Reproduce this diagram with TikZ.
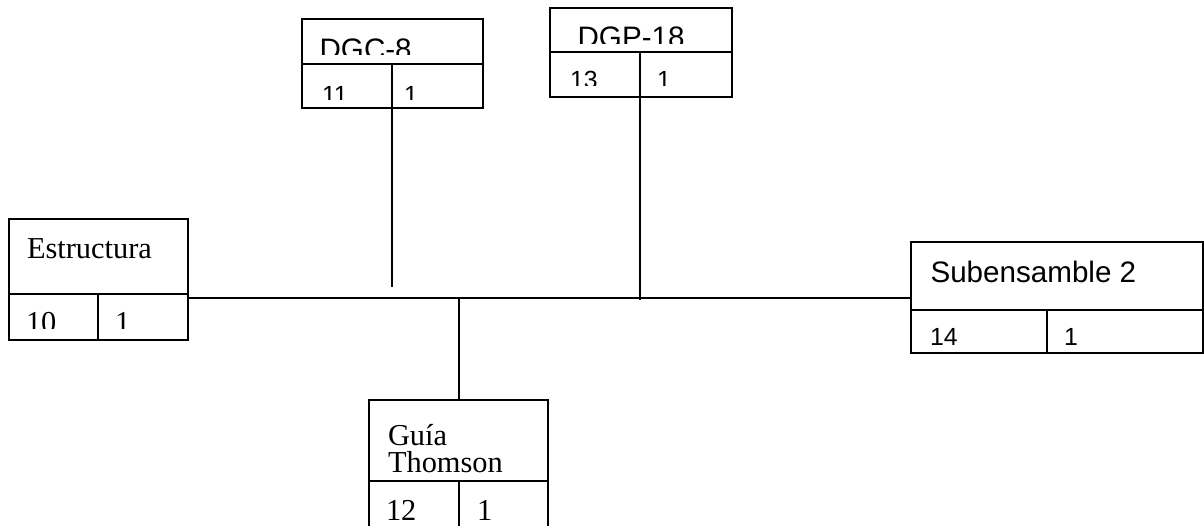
\documentclass[tikz,border=0pt]{standalone}
\usepackage{fontspec}
\setmainfont{Liberation Serif}
\setsansfont{Liberation Sans}
\usetikzlibrary{calc}
\newcommand{\serifsize}{\fontsize{15.2}{13.5}\selectfont}
\newcommand{\namesize}{\sffamily\fontsize{14.8}{16}\selectfont}
\newcommand{\numsize}{\sffamily\fontsize{12.4}{14}\selectfont}

\begin{document}
\begin{tikzpicture}[x=0.5pt, y=-0.5pt]

  \tikzset{
    tx/.initial=8.5pt, ty/.initial=19.5pt, cut/.initial=0pt, tf/.initial=\serifsize,
    cell/.style = {
      rectangle, draw, line width=1pt, inner sep=0pt, outer sep=0pt,
      anchor=north west
    },
    txt/.style = {
      path picture={
        \clip ([yshift=\pgfkeysvalueof{/tikz/cut}]path picture bounding box.south west)
          rectangle (path picture bounding box.north east);
        \node [anchor=base west, inner sep=0pt, align=left, draw=none,
               minimum width=0pt, minimum height=0pt,
               font=\pgfkeysvalueof{/tikz/tf}]
          at ([xshift=\pgfkeysvalueof{/tikz/tx},
               yshift=-\pgfkeysvalueof{/tikz/ty}]path picture bounding box.north west)
          {#1};
      }
    },
    link/.style = {line width=1pt}
  }

  \useasboundingbox (0,0) rectangle (1204,525);

  % --- Estructura ------------------------------------------------------------
  \node (estr-name) [cell, minimum width=89.5pt, minimum height=37.5pt,
                     tx=9pt, txt={Estructura}] at (9,219) {};
  \node (estr-num)  [cell, minimum width=44.5pt, minimum height=23pt,
                     ty=19pt, cut=6pt, txt={10}] at (estr-name.south west) {};
  \node (estr-qty)  [cell, minimum width=45pt, minimum height=23pt,
                     ty=19pt, cut=6pt, txt={1}] at (estr-num.north east) {};

  % --- DGC-8 -----------------------------------------------------------------
  \node (dgc-name) [cell, minimum width=90.5pt, minimum height=22.5pt, tf=\namesize,
                    tx=8.8pt, ty=20pt, cut=5pt, txt={DGC-8}] at (302,19) {};
  \node (dgc-num)  [cell, minimum width=45pt, minimum height=22pt, tf=\numsize,
                    tx=10pt, cut=4.5pt, txt={11}] at (dgc-name.south west) {};
  \node (dgc-qty)  [cell, minimum width=45.5pt, minimum height=22pt, tf=\numsize,
                    tx=6pt, cut=4.5pt, txt={1}] at (dgc-num.north east) {};

  % --- DGP-18 ----------------------------------------------------------------
  \node (dgp-name) [cell, minimum width=91pt, minimum height=22pt, tf=\namesize,
                    tx=13.8pt, cut=4.5pt, txt={DGP-18}] at (550,8) {};
  \node (dgp-num)  [cell, minimum width=45pt, minimum height=22.5pt, tf=\numsize,
                    tx=10pt, ty=18pt, cut=6pt, txt={13}] at (dgp-name.south west) {};
  \node (dgp-qty)  [cell, minimum width=46pt, minimum height=22.5pt, tf=\numsize,
                    ty=18pt, cut=6pt, txt={1}] at (dgp-num.north east) {};

  % --- Subensamble 2 ---------------------------------------------------------
  \node (sub-name) [cell, minimum width=146pt, minimum height=34pt, tf=\namesize,
                    tx=9.75pt, ty=20pt, txt={Subensamble 2}] at (911,242) {};
  \node (sub-num)  [cell, minimum width=68pt, minimum height=21.5pt, tf=\numsize,
                    tx=9.5pt, ty=17.5pt, txt={14}] at (sub-name.south west) {};
  \node (sub-qty)  [cell, minimum width=78pt, minimum height=21.5pt, tf=\numsize,
                    ty=17.5pt, txt={1}] at (sub-num.north east) {};

  % --- Guia Thomson ----------------------------------------------------------
  \node (guia-name) [cell, minimum width=89.5pt, minimum height=40.5pt,
                     tx=9.5pt, ty=36pt, txt={Guía\\Thomson}] at (369,400) {};
  \node (guia-num)  [cell, minimum width=45pt, minimum height=27pt,
                     txt={12}] at (guia-name.south west) {};
  \node (guia-qty)  [cell, minimum width=44.5pt, minimum height=27pt,
                     tx=9pt, txt={1}] at (guia-num.north east) {};

  % --- Connectors ------------------------------------------------------------
  \coordinate (bus)     at (0,297.5);
  \coordinate (dgc-end) at (392,287);
  \coordinate (dgp-end) at (640,300);

  \draw [link] (estr-qty.east |- bus) -- (sub-name.west |- bus);
  \draw [link] (dgc-qty.south west) -- (dgc-end);
  \draw [link] (dgp-qty.south west) -- (dgp-end);
  \draw [link] (guia-qty.west |- bus) -- (guia-qty.west |- guia-name.north);

\end{tikzpicture}
\end{document}
